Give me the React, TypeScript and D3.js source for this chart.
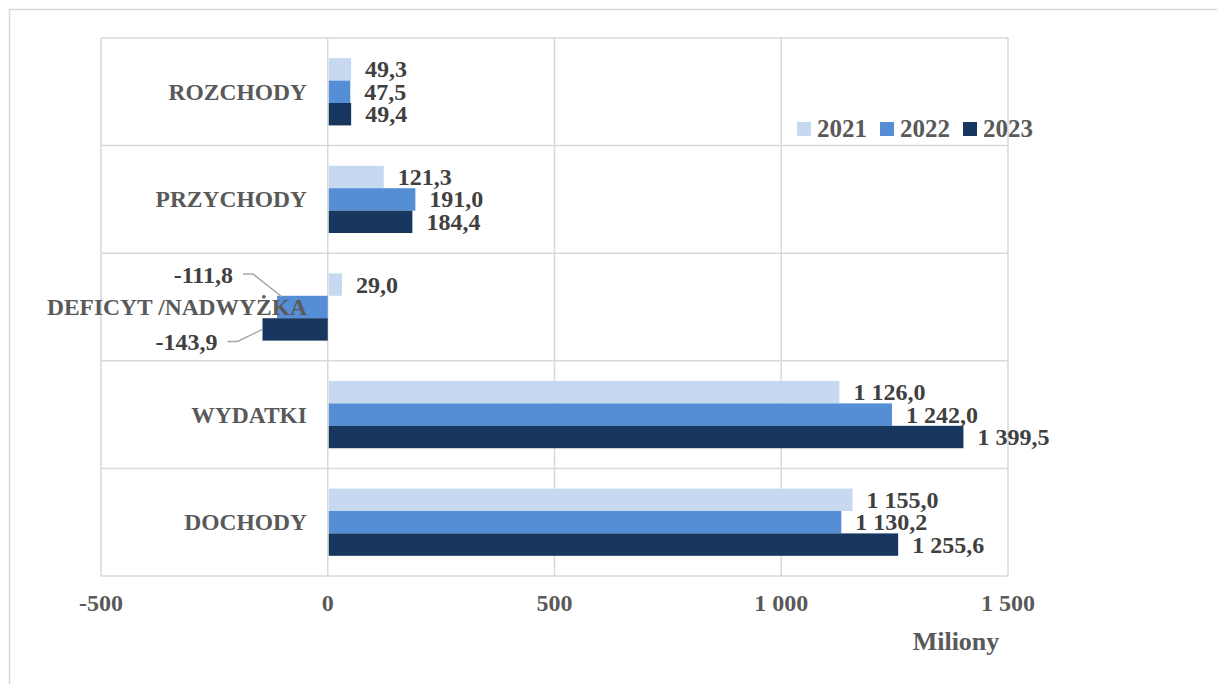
import React from "react";
import * as d3 from "d3";

// kategorie od góry do dołu
const categories = ["ROZCHODY", "PRZYCHODY", "DEFICYT /NADWYŻKA", "WYDATKI", "DOCHODY"];
const years = ["2021", "2022", "2023"];
const values2021 = [49.3, 121.3, 29.0, 1126.0, 1155.0];
const values2022 = [47.5, 191.0, -111.8, 1242.0, 1130.2];
const values2023 = [49.4, 184.4, -143.9, 1399.5, 1255.6];
const xTicks = [-500, 0, 500, 1000, 1500];
const colors = ["#c6d9f1", "#558ed5", "#17375e"];

const width = 1217;
const height = 684;
const marginLeft = 101;
const plotRight = 1008;
const plotTop = 38;
const plotBottom = 576;

const pl = d3.formatLocale({
  decimal: ",",
  thousands: " ",
  grouping: [3],
  currency: ["", ""],
  minus: "-",
});
const fmtVal = pl.format(",.1f");
const fmtTick = pl.format(",.0f");

const App: React.FC = () => {
  const series = [values2021, values2022, values2023];

  const x = d3.scaleLinear().domain([-500, 1500]).range([marginLeft, plotRight]);
  const y = d3
    .scaleBand<string>()
    .domain(categories)
    .range([plotTop, plotBottom])
    .paddingInner(0);
  const y1 = d3
    .scaleBand<string>()
    .domain(years)
    .range([0, y.bandwidth()])
    .paddingInner(0)
    .paddingOuter(0.9);

  const grid = "#d9d9d9";
  const textDark = "#404040";
  const textGray = "#595959";
  const font = "'Liberation Serif', 'Times New Roman', serif";

  return (
    <svg
      width={width}
      height={height}
      style={{ position: "absolute", left: 0, top: 0, background: "#fff" }}
      fontFamily={font}
      fontWeight="bold"
    >
      {/* ramka */}
      <line x1={9} x2={width} y1={9.5} y2={9.5} stroke={grid} strokeWidth={1.5} />
      <line x1={9.5} x2={9.5} y1={9} y2={height} stroke={grid} strokeWidth={1.5} />

      {/* siatka */}
      {xTicks.map((t) => (
        <line
          key={"v" + t}
          x1={x(t)}
          x2={x(t)}
          y1={plotTop}
          y2={plotBottom}
          stroke={grid}
          strokeWidth={1.5}
        />
      ))}
      {categories.map((c) => (
        <line
          key={"h" + c}
          x1={marginLeft}
          x2={plotRight}
          y1={y(c) as number}
          y2={y(c) as number}
          stroke={grid}
          strokeWidth={1.5}
        />
      ))}
      <line x1={marginLeft} x2={plotRight} y1={plotBottom} y2={plotBottom} stroke={grid} strokeWidth={1.5} />

      {/* słupki */}
      {categories.map((c, ci) =>
        years.map((yr, si) => {
          const v = series[si][ci];
          const y0 = (y(c) as number) + (y1(yr) as number);
          return (
            <rect
              key={c + yr}
              x={Math.min(x(0), x(v)) + (v >= 0 ? 1 : 0)}
              y={y0}
              width={Math.abs(x(v) - x(0))}
              height={y1.bandwidth()}
              fill={colors[si]}
            />
          );
        })
      )}

      {/* etykiety kategorii */}
      {categories.map((c) => (
        <text
          key={"c" + c}
          x={307}
          y={(y(c) as number) + y.bandwidth() / 2 + 8}
          textAnchor="end"
          fontSize={23.5}
          fill={textGray}
        >
          {c}
        </text>
      ))}

      {/* etykiety wartości */}
      {categories.map((c, ci) =>
        years.map((yr, si) => {
          const v = series[si][ci];
          const cy = (y(c) as number) + (y1(yr) as number) + y1.bandwidth() / 2;
          if (v >= 0) {
            return (
              <text key={"l" + c + yr} x={x(v) + 15} y={cy + 8} fontSize={24} fill={textDark}>
                {fmtVal(v)}
              </text>
            );
          }
          // etykiety ujemne odsunięte z linią odniesienia
          const up = si === 1;
          const lx = x(v) - (up ? 44 : 45);
          const ly = up ? cy - 32 : cy + 13;
          const px = up ? x(v) + 5 : x(v);
          const py = up ? cy - 10 : cy;
          return (
            <g key={"l" + c + yr}>
              <polyline
                points={`${lx + 10},${ly - 1} ${lx + 20},${ly - 1} ${px},${py}`}
                fill="none"
                stroke="#a6a6a6"
                strokeWidth={1.5}
              />
              <text x={lx} y={ly + 8} textAnchor="end" fontSize={24} fill={textDark}>
                {fmtVal(v)}
              </text>
            </g>
          );
        })
      )}

      {/* oś X */}
      {xTicks.map((t) => (
        <text key={"t" + t} x={x(t)} y={611} textAnchor="middle" fontSize={24} fill={textGray}>
          {fmtTick(t)}
        </text>
      ))}
      <text x={956} y={650} textAnchor="middle" fontSize={26} fill={textGray}>
        Miliony
      </text>

      {/* legenda */}
      {years.map((yr, i) => (
        <g key={"lg" + yr} transform={`translate(${797 + i * 83},122)`}>
          <rect width={14} height={14} fill={colors[i]} />
          <text x={20} y={15} fontSize={25} fill={textGray}>
            {yr}
          </text>
        </g>
      ))}
    </svg>
  );
};

export default App;
